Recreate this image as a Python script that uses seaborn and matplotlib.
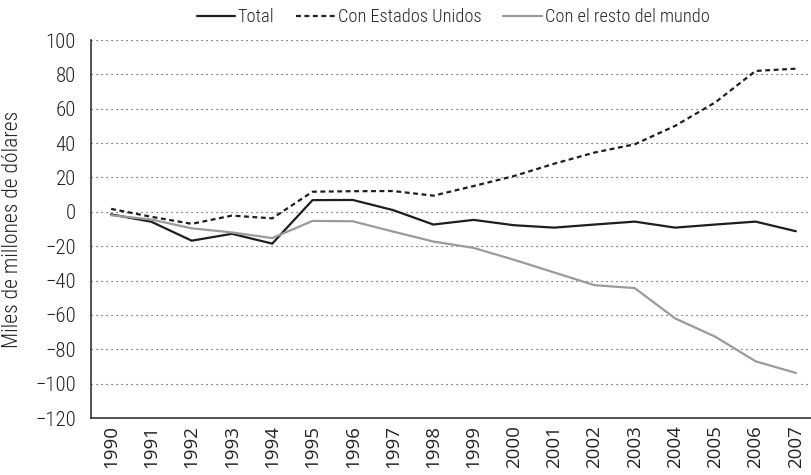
import numpy as np
import pandas as pd
import matplotlib
matplotlib.use("Agg")
import matplotlib.pyplot as plt
import seaborn as sns

years = [str(y) for y in range(1990, 2008)]
total = [-1.5, -5.8, -16.8, -12.8, -18.5, 6.8, 6.9, 1.0, -7.4, -4.7, -7.8, -9.2, -7.4, -5.7, -9.2, -7.4, -5.7, -11.3]
con_eeuu = [1.7, -2.9, -7.0, -2.2, -3.8, 11.7, 12.0, 12.1, 9.4, 15.0, 20.8, 28.0, 34.5, 39.3, 50.0, 63.7, 82.0, 83.3]
con_resto = [-2.0, -4.5, -9.6, -12.0, -15.3, -5.3, -5.5, -11.5, -17.3, -21.0, -27.9, -35.3, -42.7, -44.4, -62.0, -72.7, -87.0, -93.8]
series_names = ["Total", "Con Estados Unidos", "Con el resto del mundo"]
y_ticks = list(range(-120, 101, 20))
y_label = "Miles de millones de dólares"

sns.set_theme(style="white")
cond = ['Roboto Condensed', 'Liberation Sans Narrow', 'Open Sans Condensed', 'Roboto', 'DejaVu Sans']
plt.rcParams['font.family'] = cond
plt.rcParams['axes.unicode_minus'] = True

df = pd.DataFrame({
    "year": years * 3,
    "value": total + con_eeuu + con_resto,
    "serie": [series_names[0]] * len(years) + [series_names[1]] * len(years) + [series_names[2]] * len(years),
})
df["x"] = df["year"].map({y: i for i, y in enumerate(years)})

fig = plt.figure(figsize=(8.12, 4.75), dpi=100)
ax = fig.add_axes([91 / 812, 1 - 418 / 475, 725 / 812, (418 - 40) / 475])

palette = {series_names[0]: "#1e1e1e", series_names[1]: "#1e1e1e", series_names[2]: "#9a9a9a"}
dashes = {series_names[0]: "", series_names[1]: (2.2, 1.6), series_names[2]: ""}
sns.lineplot(data=df, x="x", y="value", hue="serie", style="serie", palette=palette,
             dashes=dashes, linewidth=1.6, ax=ax, legend=True)

ax.set_xlim(-0.5, 17.5)
ax.set_ylim(-120, 100)
ax.set_yticks(y_ticks)
ax.set_yticklabels([f"{v}".replace("-", "\u2212") for v in y_ticks], fontsize=15, color="#222222",
                   family=cond, fontweight='light')
ax.set_xticks(range(len(years)))
ax.set_xticklabels(years, rotation=90, fontsize=13.5, color="#222222",
                   family=['Open Sans', 'DejaVu Sans'], fontweight='normal')
ax.tick_params(axis="x", which="major", length=0, pad=5)
ax.set_xticks(np.arange(0.5, 17.5, 1), minor=True)
ax.tick_params(axis="x", which="minor", length=5, direction="in", width=1, color="#333333")
ax.tick_params(axis="y", which="major", length=4, direction="in", width=1, color="#333333", pad=11)

for v in y_ticks[1:]:
    ax.axhline(v, color="#333333", linestyle=(0, (1, 3.5)), linewidth=0.8, zorder=0)

for s in ["top", "right"]:
    ax.spines[s].set_visible(False)
for s in ["left", "bottom"]:
    ax.spines[s].set_color("#333333")
    ax.spines[s].set_linewidth(1.2)

ax.set_xlabel("")
ax.set_ylabel(y_label, fontsize=15.5, color="#222222", family=cond, fontweight='light')
ax.yaxis.set_label_coords((23 - 91) / 725, 0.5)

handles, labels = ax.get_legend_handles_labels()
ax.legend(handles, labels, loc="center", bbox_to_anchor=(453 / 812, 1 - 17 / 475),
          bbox_transform=fig.transFigure, ncol=3, frameon=False,
          prop={'family': cond, 'size': 13.2, 'weight': 'light'},
          handlelength=2.1, handletextpad=0.15, columnspacing=1.2)

fig.savefig("out.png", dpi=100)
